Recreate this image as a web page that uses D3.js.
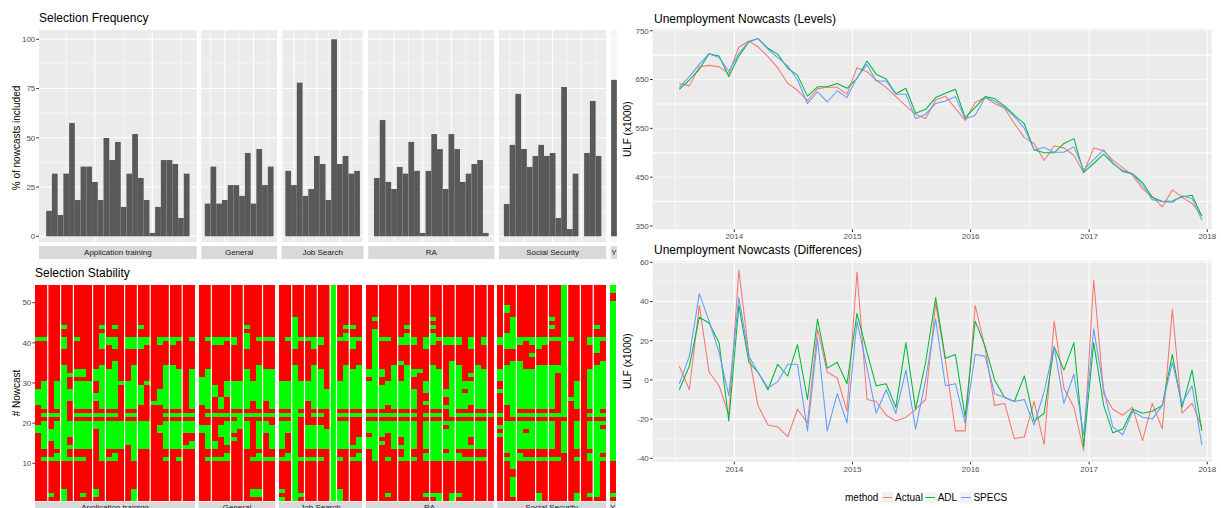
<!DOCTYPE html>
<html>
<head>
<meta charset="utf-8">
<script src="https://cdn.jsdelivr.net/npm/d3@7/dist/d3.min.js"></script>
<style>
  html, body { margin: 0; padding: 0; background: #ffffff; }
  svg { display: block; }
  text { font-family: "Liberation Sans", Arial, Helvetica, sans-serif; }
</style>
</head>
<body>
<svg id="chart" width="1221" height="508"></svg>
<script>
// ---------------------------------------------------------------
// Data
// ---------------------------------------------------------------
const facetNames = ["Application training", "General", "Job Search", "RA", "Social Security", "Y"];
const firstVariable = 2;
const nNowcasts = 54;

// % of nowcasts in which each variable was selected
const freqApplicationTraining = [12.9, 31.8, 10.8, 31.8, 57.5, 18.4, 35.4, 35.4, 27.6, 18.4, 49.9, 38.7, 47.9, 14.9, 31.8, 51.9, 29.6, 18.4, 1.7, 14.9, 38.7, 38.7, 36.7, 9.3, 31.8];
const freqGeneral = [16.6, 35.4, 16.6, 18.4, 26.0, 26.0, 20.5, 42.3, 16.6, 44.3, 26.0, 35.4];
const freqJobSearch = [33.2, 26.0, 78.0, 20.5, 24.0, 40.8, 36.7, 18.4, 100, 36.7, 40.8, 31.8, 33.2];
const freqRA = [29.6, 59.0, 27.6, 24.0, 35.2, 31.8, 47.9, 33.2, 1.7, 33.2, 51.9, 44.3, 24.0, 51.9, 44.3, 27.6, 31.8, 36.7, 38.7, 1.7];
const freqSocialSecurity = [16.4, 46.4, 72.3, 44.3, 35.2, 40.8, 46.4, 40.8, 42.3, 9.3, 75.8, 3.7, 31.8, 0, 42.3, 68.7, 40.8];
const freqY = [79.4];

// nowcasts (inclusive ranges) in which each variable was selected
const stableApplicationTraining = [
  [[18,19],[25,28],[41,41]],
  [[11,11],[14,20],[22,22],[24,30],[41,41]],
  [[2,2],[11,11],[16,18],[22,22]],
  [[11,12],[14,20],[22,22],[24,30]],
  [[1,3],[11,34],[39,41],[44,44]],
  [[11,11],[14,14],[17,20],[26,28],[32,32]],
  [[11,11],[14,20],[22,22],[24,30],[32,33],[41,41]],
  [[2,2],[11,11],[14,20],[22,22],[24,30],[32,33]],
  [[14,20],[22,22],[24,30]],
  [[2,3],[19,20],[22,22],[26,27],[31,33]],
  [[11,20],[22,22],[24,34],[39,42],[44,44]],
  [[11,11],[14,20],[22,22],[24,33],[40,41]],
  [[11,12],[14,20],[22,22],[24,35],[39,41],[44,44]],
  [[14,20],[30,30]],
  [[15,20],[22,22],[24,30],[39,41]],
  [[1,3],[11,20],[22,22],[24,34],[39,41]],
  [[14,20],[25,29],[39,41],[44,44]],
  [[14,20],[30,30],[40,41]],
  [[25,25]],
  [[18,19],[25,28],[40,41]],
  [[11,11],[14,20],[22,22],[24,34],[41,41]],
  [[14,20],[22,22],[24,34],[40,41]],
  [[11,11],[14,20],[22,22],[24,33],[41,41]],
  [[14,14],[18,20],[22,22]],
  [[14,15],[18,20],[22,22],[24,33],[41,41]]
];
const stableGeneral = [
  [[18,19],[25,31]],
  [[11,11],[14,19],[22,22],[24,33],[41,41]],
  [[11,11],[14,15],[22,22],[27,29],[40,41]],
  [[11,11],[17,19],[22,22],[24,26],[40,41]],
  [[11,12],[15,20],[22,22],[27,30],[41,41]],
  [[16,16],[18,20],[22,22],[24,30],[40,41]],
  [[19,22],[24,30]],
  [[14,20],[22,22],[24,33],[39,42],[44,44]],
  [[2,3],[11,11],[22,22],[26,30]],
  [[2,3],[11,12],[14,20],[22,22],[24,34],[41,41]],
  [[11,11],[18,20],[22,22],[26,33],[41,41]],
  [[11,11],[14,19],[22,22],[24,33],[41,41]]
];
const stableJobSearch = [
  [[1,1],[3,3],[11,11],[14,20],[22,22],[24,30]],
  [[11,12],[18,20],[22,22],[24,30],[41,41]],
  [[1,34],[39,46]],
  [[2,2],[11,11],[22,22],[24,30],[41,41]],
  [[11,11],[14,19],[26,30],[41,41]],
  [[11,11],[14,19],[22,22],[24,34],[39,41]],
  [[11,11],[14,19],[22,22],[24,33],[40,41]],
  [[14,18],[24,28]],
  [[1,54]],
  [[1,3],[11,11],[14,20],[22,22],[24,30],[41,41]],
  [[14,20],[22,22],[24,34],[41,42],[44,44]],
  [[11,11],[14,14],[22,22],[24,33],[39,41],[44,44]],
  [[11,12],[14,16],[22,22],[24,34],[41,41]]
];
const stableRA = [
  [[14,16],[18,20],[22,22],[24,30],[32,33]],
  [[11,20],[22,22],[24,43],[46,46]],
  [[15,15],[17,20],[22,22],[24,29],[32,33],[41,41]],
  [[2,2],[11,11],[18,20],[22,22],[25,30],[41,41]],
  [[14,20],[22,22],[24,34]],
  [[11,11],[14,14],[17,20],[22,22],[24,30],[35,35],[40,41]],
  [[11,20],[22,22],[24,34],[40,42],[44,44]],
  [[11,11],[14,20],[22,22],[24,28],[32,33],[40,41]],
  [[33,33]],
  [[2,2],[11,12],[14,20],[22,22],[25,25],[28,30],[39,41]],
  [[2,2],[11,20],[22,22],[24,34],[40,42],[44,44],[46,46]],
  [[1,2],[11,20],[22,22],[24,33],[41,41]],
  [[11,12],[14,18],[20,20],[24,24],[27,28],[40,41]],
  [[1,2],[11,20],[22,35],[40,41]],
  [[2,2],[11,12],[14,20],[22,22],[24,34],[40,41]],
  [[11,11],[14,20],[22,22],[24,27],[29,30]],
  [[11,11],[14,14],[17,20],[22,22],[25,30],[32,32],[39,41]],
  [[11,11],[14,20],[22,22],[24,34]],
  [[11,11],[14,20],[22,22],[24,33],[40,41]],
  [[22,22]]
];
const stableSocialSecurity = [
  [[17,17],[19,19],[22,22],[28,28],[31,33],[40,41]],
  [[11,11],[13,20],[25,34],[39,42],[48,49]],
  [[2,6],[9,20],[22,35],[39,46]],
  [[11,12],[14,20],[22,22],[24,35],[40,41]],
  [[11,11],[14,17],[19,20],[22,22],[24,33],[41,41]],
  [[11,11],[14,20],[22,22],[24,33],[37,37],[40,41]],
  [[1,2],[11,11],[14,20],[22,22],[24,34],[39,41]],
  [[11,11],[14,20],[22,22],[24,34],[40,41]],
  [[11,11],[14,20],[22,22],[24,34],[41,41],[44,44],[46,46]],
  [[11,11],[22,22],[33,34],[41,41]],
  [[13,20],[22,54]],
  [[26,26],[41,41]],
  [[1,2],[11,11],[14,20],[24,30]],
  [],
  [[2,2],[11,12],[14,20],[22,22],[24,33],[40,41]],
  [[2,20],[22,34],[38,41],[44,44]],
  [[11,11],[13,18],[20,20],[22,22],[24,35],[41,41]]
];
const stableY = [
  [[2,2],[11,50],[53,54]]
];

// monthly nowcasts
const months = [
  "2013-07","2013-08","2013-09","2013-10","2013-11","2013-12",
  "2014-01","2014-02","2014-03","2014-04","2014-05","2014-06","2014-07","2014-08","2014-09","2014-10","2014-11","2014-12",
  "2015-01","2015-02","2015-03","2015-04","2015-05","2015-06","2015-07","2015-08","2015-09","2015-10","2015-11","2015-12",
  "2016-01","2016-02","2016-03","2016-04","2016-05","2016-06","2016-07","2016-08","2016-09","2016-10","2016-11","2016-12",
  "2017-01","2017-02","2017-03","2017-04","2017-05","2017-06","2017-07","2017-08","2017-09","2017-10","2017-11","2017-12"
];
const methodNames = ["Actual", "ADL", "SPECS"];

const levelActual = [642,637,676,679,676,662,716,729,717,697,674,642,628,607,631,634,634,620,674,666,649,634,615,596,579,570,608,616,591,566,603,613,601,591,560,531,519,484,514,510,495,459,510,504,485,469,454,426,410,389,424,409,396,372];
const levelADL    = [630,649,671,703,698,656,698,727,734,714,702,673,659,616,635,635,642,632,652,688,661,651,621,632,581,589,613,622,630,572,593,615,611,596,577,559,506,500,500,519,529,460,478,497,478,463,457,439,409,400,401,410,413,370];
const levelSPECS  = [634,656,681,703,695,667,703,728,734,712,695,678,650,601,625,604,627,613,654,681,647,647,620,620,570,579,601,606,615,569,577,613,606,593,574,550,506,511,501,501,512,465,486,506,480,461,457,433,404,400,398,412,406,362];

const diffActual = [7,-5,38,4,-3,-18,56,13,-13,-23,-24,-29,-15,-22,26,4,1,-16,55,-10,-11,-18,-21,-19,-15,-10,39,10,-26,-26,38,16,-13,-12,-30,-29,-11,-33,30,-4,-14,-36,51,-7,-15,-18,-14,-31,-12,-25,36,-17,-12,-24];
const diffADL    = [-5,7,32,29,19,-21,38,9,4,-5,8,2,18,-10,31,6,9,-2,34,14,-3,-2,-14,19,-15,9,42,11,13,-19,30,17,0,-9,-11,2,-21,-17,17,5,19,-34,19,-13,-27,-25,-15,-17,-16,-13,13,-14,5,-26];
const diffSPECS  = [-2,12,44,30,14,-8,42,12,4,-4,-1,8,8,-26,21,-26,-7,-22,30,6,-17,-5,-17,5,-25,0,31,-3,-2,-22,13,12,-7,-9,-11,-10,-23,-6,17,-12,3,-28,26,-5,-24,-28,-16,-19,-20,-13,9,-12,-3,-33];

const freqTicks = [0, 25, 50, 75, 100];
const nowcastTicks = [10, 20, 30, 40, 50];
const levelTicks = [350, 450, 550, 650, 750];
const diffTicks = [-40, -20, 0, 20, 40, 60];
const yearTicks = ["2014", "2015", "2016", "2017", "2018"];

// ---------------------------------------------------------------
// Theme
// ---------------------------------------------------------------
const COL = {
  panel: "#ebebeb", grid: "#ffffff", strip: "#d9d9d9", stripText: "#1a1a1a",
  bar: "#595959", title: "#000000", axisText: "#4d4d4d", tick: "#333333",
  on: "#00ff00", off: "#ff0000", key: "#f2f2f2"
};
const methodColour = { Actual: "#F8766D", ADL: "#00BA38", SPECS: "#619CFF" };
const FS = { title: 12, axisTitle: 10, tick: 8, strip: 8, legend: 10 };

const svg = d3.select("#chart");
const defs = svg.append("defs");

function gridBreaks(lo, hi, step) {
  const half = step / 2, major = [], minor = [];
  for (let t = Math.ceil(lo / half - 1e-9) * half; t <= hi + 1e-9; t += half) {
    const v = +t.toFixed(6);
    if (Math.abs(v / step - Math.round(v / step)) < 1e-6) major.push(v); else minor.push(v);
  }
  return { major, minor };
}

function clipRect(id, x, y, w, h) {
  defs.append("clipPath").attr("id", id)
    .append("rect").attr("x", x).attr("y", y).attr("width", w).attr("height", h);
  return `url(#${id})`;
}

const facets = facetNames.map((name, k) => ({
  name,
  freq: [freqApplicationTraining, freqGeneral, freqJobSearch, freqRA, freqSocialSecurity, freqY][k],
  stable: [stableApplicationTraining, stableGeneral, stableJobSearch, stableRA, stableSocialSecurity, stableY][k],
  gridStep: [10, 5, 4, 5, 5, 0.5][k],
  // tiles that render as one block before a thin white seam
  tileGroups: [[2,2,2,3,2,3,2,2,3,2,2], [2,3,2,3,2], [2,2,2,2,1,2,2], [2,3,2,3,2,2,3,2,1], [1,2,3,2,3,2,2,2], [1]][k]
}));
{
  let v = firstVariable;
  facets.forEach(f => { f.first = v; v += f.freq.length; });
}

const left = svg.append("g").attr("clip-path", clipRect("leftClip", 0, 0, 617, 508));

// ---------------------------------------------------------------
// Selection Frequency (faceted bars)
// ---------------------------------------------------------------
{
  const P = { x0: 39, unit: 5.735, gap: 4.6, top: 30, bottom: 242, stripTop: 246, stripH: 13 };
  const y = d3.scaleLinear().domain([0, 100]).range([236.3, 39.3]);
  const yb = gridBreaks(y.invert(P.bottom), y.invert(P.top), 25);
  const g = left.append("g");

  let px = P.x0;
  facets.forEach(f => {
    const n = f.freq.length;
    const lo = f.first - 0.5, hi = f.first + n - 0.5, pad = 0.05 * n;
    const w = n * 1.1 * P.unit;
    const x = d3.scaleLinear().domain([lo - pad, hi + pad]).range([px, px + w]);
    const gp = g.append("g");
    gp.append("rect").attr("x", px).attr("y", P.top).attr("width", w).attr("height", P.bottom - P.top).attr("fill", COL.panel);

    const xb = gridBreaks(lo - pad, hi + pad, f.gridStep);
    gp.selectAll(".hmin").data(yb.minor).join("line")
      .attr("x1", px).attr("x2", px + w).attr("y1", d => y(d)).attr("y2", d => y(d))
      .attr("stroke", COL.grid).attr("stroke-width", 0.55);
    gp.selectAll(".vmin").data(xb.minor).join("line")
      .attr("x1", d => x(d)).attr("x2", d => x(d)).attr("y1", P.top).attr("y2", P.bottom)
      .attr("stroke", COL.grid).attr("stroke-width", 0.55);
    gp.selectAll(".hmaj").data(yb.major).join("line")
      .attr("x1", px).attr("x2", px + w).attr("y1", d => y(d)).attr("y2", d => y(d))
      .attr("stroke", COL.grid).attr("stroke-width", 1.05);
    gp.selectAll(".vmaj").data(xb.major).join("line")
      .attr("x1", d => x(d)).attr("x2", d => x(d)).attr("y1", P.top).attr("y2", P.bottom)
      .attr("stroke", COL.grid).attr("stroke-width", 1.05);

    gp.selectAll(".bar").data(f.freq).join("rect")
      .attr("x", (d, i) => x(f.first + i - 0.5))
      .attr("width", (d, i) => x(f.first + i + 0.5) - x(f.first + i - 0.5))
      .attr("y", d => y(d))
      .attr("height", d => y(0) - y(d))
      .attr("fill", COL.bar);

    gp.append("rect").attr("x", px).attr("y", P.stripTop).attr("width", w).attr("height", P.stripH).attr("fill", COL.strip);
    gp.append("text").attr("x", px + w / 2).attr("y", P.stripTop + P.stripH / 2).attr("dy", "0.35em")
      .attr("text-anchor", "middle").attr("font-size", FS.strip).attr("fill", COL.stripText).text(f.name);
    px += w + P.gap;
  });

  // y axis
  g.selectAll(".yt").data(freqTicks).join("line")
    .attr("x1", P.x0 - 2.7).attr("x2", P.x0).attr("y1", d => y(d)).attr("y2", d => y(d))
    .attr("stroke", COL.tick).attr("stroke-width", 1);
  g.selectAll(".yl").data(freqTicks).join("text")
    .attr("x", P.x0 - 3.7).attr("y", d => y(d)).attr("dy", "0.35em").attr("text-anchor", "end")
    .attr("font-size", FS.tick).attr("fill", COL.axisText).text(d => d);
  g.append("text").attr("transform", `translate(16,${(P.top + P.bottom) / 2 + 2}) rotate(-90)`)
    .attr("dy", "0.35em").attr("text-anchor", "middle").attr("font-size", FS.axisTitle).attr("fill", COL.title)
    .text("% of nowcasts included");
  g.append("text").attr("x", P.x0).attr("y", 22.3).attr("font-size", FS.title).attr("fill", COL.title)
    .text("Selection Frequency");
}

// ---------------------------------------------------------------
// Selection Stability (faceted tiles)
// ---------------------------------------------------------------
{
  const P = { x0: 35, unit: 6.4, gap: 3.55, top: 284.6, bottom: 501.4, stripTop: 501.8, stripH: 13 };
  const y = d3.scaleLinear().domain([0.5, nNowcasts + 0.5]).range([P.bottom, P.top]);
  const g = left.append("g");

  let px = P.x0;
  facets.forEach(f => {
    const n = f.stable.length;
    const lo = f.first - 0.5, hi = f.first + n - 0.5;
    const w = n * P.unit;
    const x = d3.scaleLinear().domain([lo, hi]).range([px, px + w]);
    const gp = g.append("g");
    gp.append("rect").attr("x", px).attr("y", P.top).attr("width", w).attr("height", P.bottom - P.top).attr("fill", COL.panel);

    const cols = gp.selectAll(".col").data(f.stable).join("g");
    cols.append("rect")
      .attr("x", (d, i) => x(f.first + i - 0.5))
      .attr("width", (d, i) => x(f.first + i + 0.5) - x(f.first + i - 0.5))
      .attr("y", y(nNowcasts + 0.5)).attr("height", y(0.5) - y(nNowcasts + 0.5))
      .attr("fill", COL.off).attr("shape-rendering", "crispEdges");
    cols.each(function (runs, i) {
      d3.select(this).selectAll(".on").data(runs).join("rect")
        .attr("x", x(f.first + i - 0.5))
        .attr("width", x(f.first + i + 0.5) - x(f.first + i - 0.5))
        .attr("y", r => y(r[1] + 0.5))
        .attr("height", r => y(r[0] - 0.5) - y(r[1] + 0.5))
        .attr("fill", COL.on).attr("shape-rendering", "crispEdges");
    });

    // white seams between tile blocks
    const seams = d3.cumsum(f.tileGroups).slice(0, -1);
    gp.selectAll(".seam").data(seams).join("line")
      .attr("x1", d => x(f.first + d - 0.5)).attr("x2", d => x(f.first + d - 0.5))
      .attr("y1", P.top).attr("y2", P.bottom)
      .attr("stroke", "#ffffff").attr("stroke-width", 1.2);

    gp.append("rect").attr("x", px).attr("y", P.stripTop).attr("width", w).attr("height", P.stripH).attr("fill", COL.strip);
    gp.append("text").attr("x", px + w / 2).attr("y", P.stripTop + 5.4).attr("dy", "0.35em")
      .attr("text-anchor", "middle").attr("font-size", FS.strip).attr("fill", COL.stripText).text(f.name);
    px += w + P.gap;
  });

  g.selectAll(".yt").data(nowcastTicks).join("line")
    .attr("x1", P.x0 - 2.7).attr("x2", P.x0).attr("y1", d => y(d)).attr("y2", d => y(d))
    .attr("stroke", COL.tick).attr("stroke-width", 1);
  g.selectAll(".yl").data(nowcastTicks).join("text")
    .attr("x", P.x0 - 3.7).attr("y", d => y(d)).attr("dy", "0.35em").attr("text-anchor", "end")
    .attr("font-size", FS.tick).attr("fill", COL.axisText).text(d => d);
  g.append("text").attr("transform", `translate(16,${(P.top + P.bottom) / 2}) rotate(-90)`)
    .attr("dy", "0.35em").attr("text-anchor", "middle").attr("font-size", FS.axisTitle).attr("fill", COL.title)
    .text("# Nowcast");
  g.append("text").attr("x", P.x0).attr("y", 277.3).attr("font-size", FS.title).attr("fill", COL.title)
    .text("Selection Stability");
}

// ---------------------------------------------------------------
// Unemployment nowcasts (time series panels)
// ---------------------------------------------------------------
const parseMonth = d3.timeParse("%Y-%m");
const dates = months.map(m => d3.timeDay.offset(parseMonth(m), 14));
const parseYear = d3.timeParse("%Y");
const x = d3.scaleTime().domain([parseYear("2014"), parseYear("2018")]).range([734.3, 1207.3]);
const panelX = [652.7, 1211.7];

function timePanel(opt) {
  const g = svg.append("g");
  const { top, bottom } = opt;
  const y = d3.scaleLinear().domain(opt.domain).range(opt.range);
  g.append("rect").attr("x", panelX[0]).attr("y", top).attr("width", panelX[1] - panelX[0]).attr("height", bottom - top).attr("fill", COL.panel);

  const step = opt.ticks[1] - opt.ticks[0];
  const yb = gridBreaks(y.invert(bottom), y.invert(top), step);
  const d0 = x.invert(panelX[0]), d1 = x.invert(panelX[1]);
  const years = yearTicks.map(parseYear);
  const xMinor = d3.range(2013, 2018).map(yr => new Date((+parseYear(String(yr)) + +parseYear(String(yr + 1))) / 2))
    .filter(d => d >= d0 && d <= d1);

  g.selectAll(".hmin").data(yb.minor).join("line")
    .attr("x1", panelX[0]).attr("x2", panelX[1]).attr("y1", d => y(d)).attr("y2", d => y(d))
    .attr("stroke", COL.grid).attr("stroke-width", 0.55);
  g.selectAll(".vmin").data(xMinor).join("line")
    .attr("x1", d => x(d)).attr("x2", d => x(d)).attr("y1", top).attr("y2", bottom)
    .attr("stroke", COL.grid).attr("stroke-width", 0.55);
  g.selectAll(".hmaj").data(yb.major).join("line")
    .attr("x1", panelX[0]).attr("x2", panelX[1]).attr("y1", d => y(d)).attr("y2", d => y(d))
    .attr("stroke", COL.grid).attr("stroke-width", 1.05);
  g.selectAll(".vmaj").data(years).join("line")
    .attr("x1", d => x(d)).attr("x2", d => x(d)).attr("y1", top).attr("y2", bottom)
    .attr("stroke", COL.grid).attr("stroke-width", 1.05);

  const clip = clipRect(opt.id, panelX[0], top, panelX[1] - panelX[0], bottom - top);
  const line = d3.line().x((d, i) => x(dates[i])).y(d => y(d));
  const lg = g.append("g").attr("clip-path", clip);
  methodNames.forEach((m, k) => {
    lg.append("path").datum(opt.series[k]).attr("d", line)
      .attr("fill", "none").attr("stroke", methodColour[m]).attr("stroke-width", 1.05)
      .attr("stroke-linejoin", "round");
  });

  // axes
  g.selectAll(".yt").data(opt.ticks).join("line")
    .attr("x1", panelX[0] - 2.7).attr("x2", panelX[0]).attr("y1", d => y(d)).attr("y2", d => y(d))
    .attr("stroke", COL.tick).attr("stroke-width", 1);
  g.selectAll(".yl").data(opt.ticks).join("text")
    .attr("x", panelX[0] - 3.9).attr("y", d => y(d)).attr("dy", "0.35em").attr("text-anchor", "end")
    .attr("font-size", FS.tick).attr("fill", COL.axisText).text(d => d);
  g.selectAll(".xt").data(years).join("line")
    .attr("x1", d => x(d)).attr("x2", d => x(d)).attr("y1", bottom).attr("y2", bottom + 2.7)
    .attr("stroke", COL.tick).attr("stroke-width", 1);
  g.selectAll(".xl").data(years).join("text")
    .attr("x", d => x(d)).attr("y", bottom + 7).attr("dy", "0.35em").attr("text-anchor", "middle")
    .attr("font-size", FS.tick).attr("fill", COL.axisText).text(d3.timeFormat("%Y"));
  g.append("text").attr("transform", `translate(627.5,${(top + bottom) / 2}) rotate(-90)`)
    .attr("dy", "0.35em").attr("text-anchor", "middle").attr("font-size", FS.axisTitle).attr("fill", COL.title)
    .text("ULF (x1000)");
  g.append("text").attr("x", 654).attr("y", opt.titleY).attr("font-size", FS.title).attr("fill", COL.title)
    .text(opt.title);
}

timePanel({
  id: "levelsClip", title: "Unemployment Nowcasts (Levels)", titleY: 22.5,
  top: 29.3, bottom: 229.3, domain: [350, 750], range: [226, 30.7], ticks: levelTicks,
  series: [levelActual, levelADL, levelSPECS]
});
timePanel({
  id: "diffClip", title: "Unemployment Nowcasts (Differences)", titleY: 254,
  top: 260.7, bottom: 461.7, domain: [-40, 60], range: [458.3, 262.3], ticks: diffTicks,
  series: [diffActual, diffADL, diffSPECS]
});

// legend
{
  const g = svg.append("g");
  const cy = 497.5, key = 11.6;
  g.append("text").attr("x", 845).attr("y", cy).attr("dy", "0.35em")
    .attr("font-size", FS.legend).attr("fill", COL.title).text("method");
  const keyX = [881.7, 924.3, 960];
  methodNames.forEach((m, k) => {
    g.append("rect").attr("x", keyX[k]).attr("y", cy - key / 2).attr("width", key).attr("height", key).attr("fill", COL.key);
    g.append("line").attr("x1", keyX[k] + 1).attr("x2", keyX[k] + key - 1).attr("y1", cy).attr("y2", cy)
      .attr("stroke", methodColour[m]).attr("stroke-width", 1.05);
    g.append("text").attr("x", keyX[k] + key + 1.8).attr("y", cy).attr("dy", "0.35em")
      .attr("font-size", FS.legend).attr("fill", COL.title).text(m);
  });
}
</script>
</body>
</html>
